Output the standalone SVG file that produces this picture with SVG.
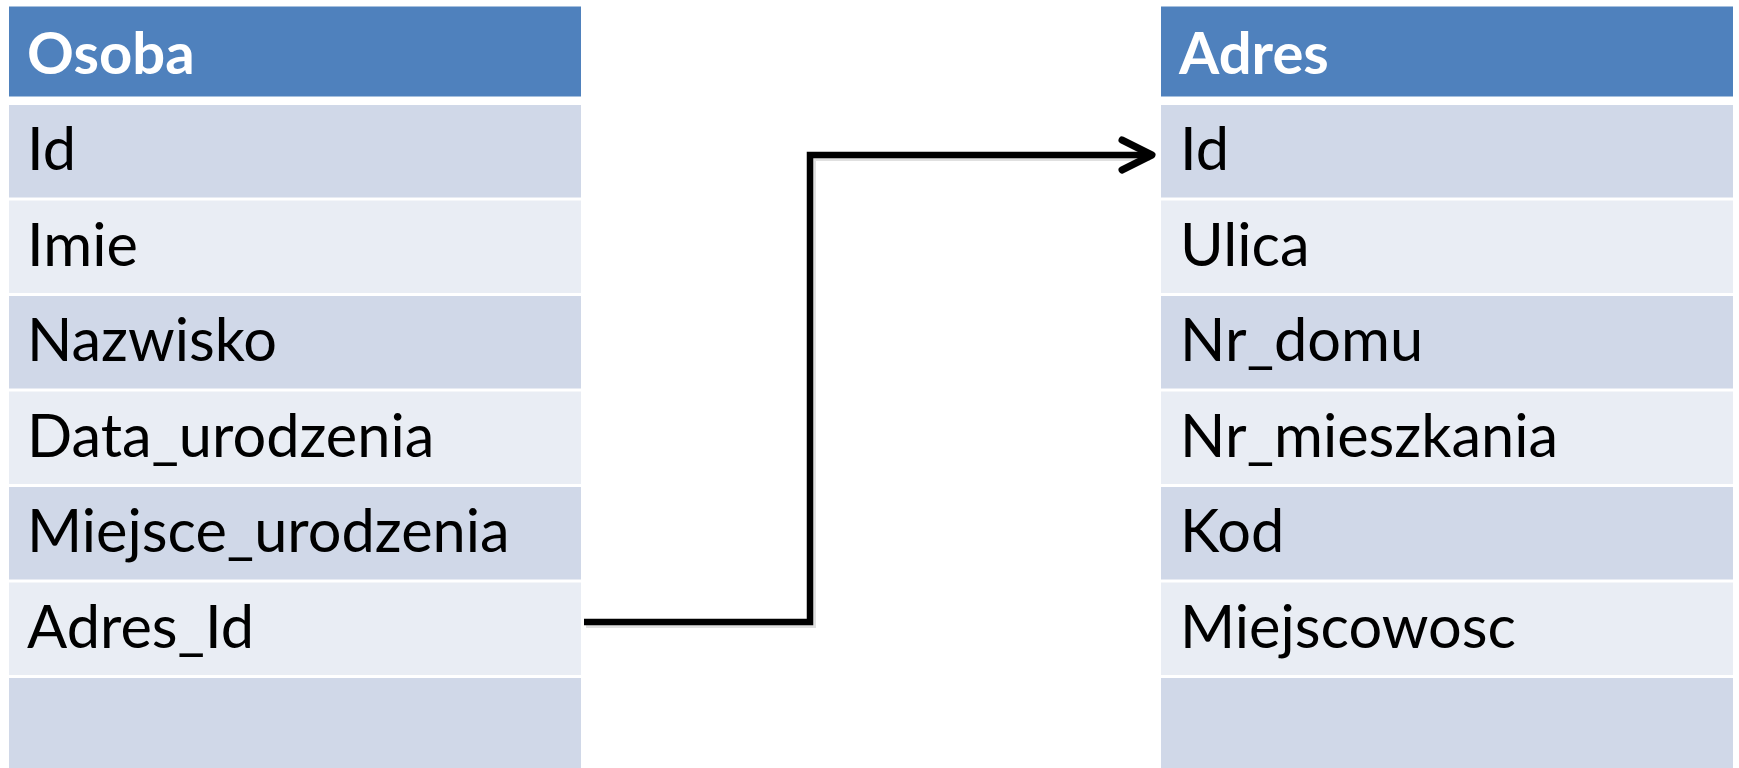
<svg xmlns="http://www.w3.org/2000/svg" width="1739" height="768" viewBox="0 0 1739 768">
  <style>
    .hdr { fill: #4F81BD; }
    .dk { fill: #D0D8E8; }
    .lt { fill: #E9EDF4; }
    .ht { font-family: Lato, "Open Sans", sans-serif; font-weight: bold; font-size: 58px; fill: #FFFFFF; }
    .ct { font-family: Lato, "Open Sans", sans-serif; font-size: 59.5px; fill: #000000; }
    .conn { fill: none; stroke: #000; stroke-width: 6.5; stroke-linejoin: miter; }
    .shadow { fill: none; stroke: #000; stroke-opacity: 0.12; stroke-width: 6; }
  </style>
  <defs>
    <marker id="arrow" markerUnits="userSpaceOnUse" markerWidth="50" markerHeight="50" viewBox="-40 -25 50 50" refX="0" refY="0" orient="auto">
      <path d="M-30,-15 L0,0 L-30,15" fill="none" stroke="#000" stroke-width="7" stroke-linecap="round" stroke-linejoin="round"/>
    </marker>
  </defs>
  <rect width="1739" height="768" fill="#FFFFFF"/>

  <g id="osoba">
    <rect class="hdr" x="9" y="6.5" width="572" height="90"/>
    <text class="ht" x="27" y="74">Osoba</text>
    <rect class="dk" x="9" y="105" width="572" height="92.5"/>
    <text class="ct" x="27" y="170">Id</text>
    <rect class="lt" x="9" y="200.5" width="572" height="92.5"/>
    <text class="ct" x="27" y="265.5">Imie</text>
    <rect class="dk" x="9" y="296" width="572" height="92.5"/>
    <text class="ct" x="27" y="361">Nazwisko</text>
    <rect class="lt" x="9" y="391.5" width="572" height="92.5"/>
    <text class="ct" x="27" y="456.5">Data_urodzenia</text>
    <rect class="dk" x="9" y="487" width="572" height="92.5"/>
    <text class="ct" x="27" y="552">Miejsce_urodzenia</text>
    <rect class="lt" x="9" y="582.5" width="572" height="92.5"/>
    <text class="ct" x="27" y="647.5">Adres_Id</text>
    <rect class="dk" x="9" y="678" width="572" height="90"/>
  </g>

  <g id="adres">
    <rect class="hdr" x="1161" y="6.5" width="572" height="90"/>
    <text class="ht" x="1179" y="74">Adres</text>
    <rect class="dk" x="1161" y="105" width="572" height="92.5"/>
    <text class="ct" x="1180" y="170">Id</text>
    <rect class="lt" x="1161" y="200.5" width="572" height="92.5"/>
    <text class="ct" x="1180" y="265.5">Ulica</text>
    <rect class="dk" x="1161" y="296" width="572" height="92.5"/>
    <text class="ct" x="1180" y="361">Nr_domu</text>
    <rect class="lt" x="1161" y="391.5" width="572" height="92.5"/>
    <text class="ct" x="1180" y="456.5">Nr_mieszkania</text>
    <rect class="dk" x="1161" y="487" width="572" height="92.5"/>
    <text class="ct" x="1180" y="552">Kod</text>
    <rect class="lt" x="1161" y="582.5" width="572" height="92.5"/>
    <text class="ct" x="1180" y="647.5">Miejscowosc</text>
    <rect class="dk" x="1161" y="678" width="572" height="90"/>
  </g>

  <g id="connectors">
    <path class="shadow" d="M586,625 H813 V158 H1150"/>
    <path class="conn" d="M584,622 H810 V155 H1152" marker-end="url(#arrow)"/>
  </g>
</svg>
